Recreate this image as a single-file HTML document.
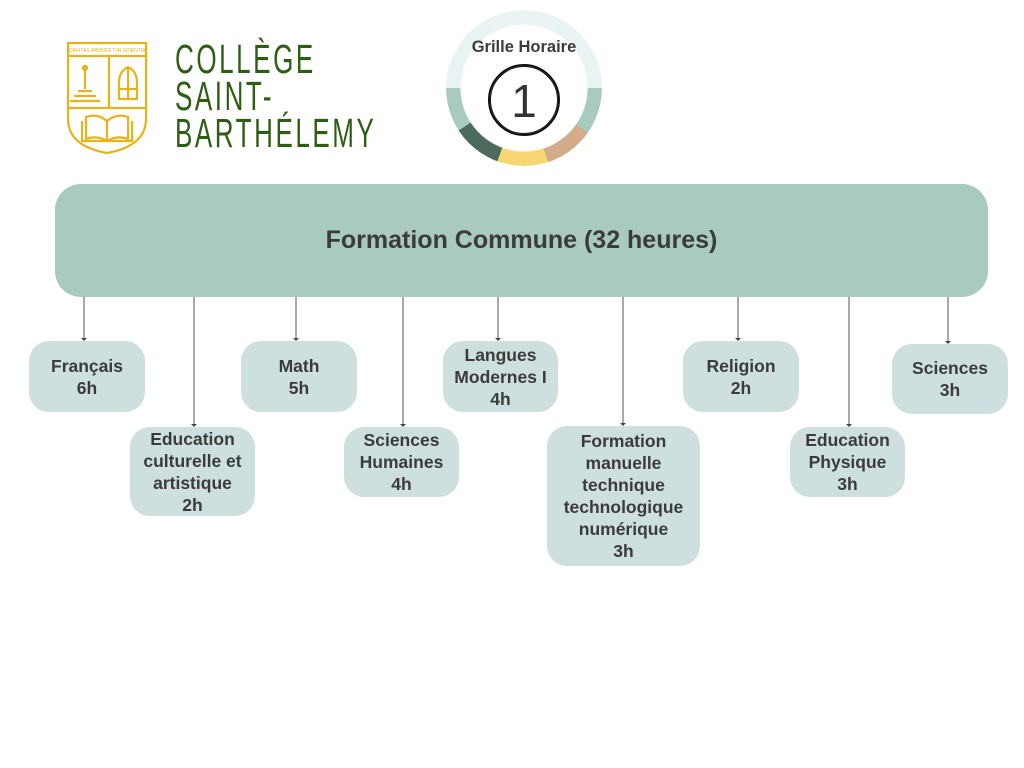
<!DOCTYPE html>
<html><head><meta charset="utf-8"><style>
body{margin:0;width:1024px;height:768px;background:#fff;position:relative;overflow:hidden;font-family:"Liberation Sans",sans-serif}
.b{position:absolute;background:#cde0df;border-radius:20px;display:flex;align-items:center;justify-content:center;text-align:center;font-weight:bold;font-size:17.5px;line-height:22px;color:#3b3b3b;white-space:nowrap}
.t{position:absolute;font-family:"Liberation Sans Narrow","Liberation Sans",sans-serif;color:#2e5e14;font-size:41px;letter-spacing:4px;line-height:37px;left:175px;top:41px;transform:scaleX(0.635);transform-origin:left;white-space:nowrap}
</style></head><body>
<svg style="position:absolute;left:66px;top:41px" width="82" height="114" viewBox="0 0 82 114" fill="none" stroke="#e8b21a" stroke-width="2.2">
<path d="M2 2H80V78Q80 105 41 112Q2 105 2 78Z"/>
<line x1="2" y1="15" x2="80" y2="15"/><line x1="2" y1="67" x2="80" y2="67"/><line x1="43" y1="15" x2="43" y2="67"/>
<text x="41" y="11" font-size="5" fill="#e8b21a" stroke="none" text-anchor="middle" font-family="Liberation Sans Narrow,sans-serif">CARITAS ABUNDET IN SCIENTIA</text>
<circle cx="19" cy="27" r="2" fill="#e8b21a"/><line x1="19" y1="28" x2="19" y2="48"/><line x1="12" y1="50" x2="26" y2="50"/><line x1="8" y1="55" x2="30" y2="55"/><line x1="4" y1="60" x2="34" y2="60"/>
<path d="M53 58V42Q53 30 62 26Q71 30 71 42V58Z"/><line x1="62" y1="26" x2="62" y2="58"/><line x1="53" y1="48" x2="71" y2="48"/>
<path d="M20 98V76Q31 72 41 80Q51 72 62 76V98Q51 94 41 100Q31 94 20 98Z"/><line x1="41" y1="80" x2="41" y2="100"/><path d="M16 80V100H66V80"/>
</svg>
<div class="t">COLLÈGE<br>SAINT-<br>BARTHÉLEMY</div>
<div style="position:absolute;left:446px;top:10px;width:156px;height:156px;border-radius:50%;background:conic-gradient(#e9f3f3 0 90deg,#a8cbbd 90deg 125deg,#d1ab8a 125deg 162deg,#f7d774 162deg 200deg,#4d6b5d 200deg 237deg,#a8cbbd 237deg 270deg,#e9f3f3 270deg 360deg);-webkit-mask:radial-gradient(circle,transparent 63px,#000 64px);mask:radial-gradient(circle,transparent 63px,#000 64px)"></div>
<div style="position:absolute;left:446px;top:38px;width:156px;text-align:center;font-weight:bold;font-size:16.5px;color:#3b3b3b">Grille Horaire</div>
<div style="position:absolute;left:488px;top:64px;width:68px;height:68px;border:2px solid #111;border-radius:50%;"></div>
<div style="position:absolute;left:490px;top:66px;width:68px;height:68px;border:1px solid #111;border-radius:50%;text-align:center;line-height:68px;font-size:46px;color:#333;box-sizing:border-box">1</div>
<div style="position:absolute;left:55px;top:184px;width:933px;height:113px;background:#a8cbbd;border-radius:26px;display:flex;align-items:center;justify-content:center;font-weight:bold;font-size:25px;color:#3b3b3b">Formation Commune (32 heures)</div>
<svg style="position:absolute;left:0;top:0" width="1024" height="768">
<g stroke="#555" stroke-width="1">
<line x1="84" y1="297" x2="84" y2="338"/><line x1="194" y1="297" x2="194" y2="424"/><line x1="296" y1="297" x2="296" y2="338"/><line x1="403" y1="297" x2="403" y2="424"/><line x1="498" y1="297" x2="498" y2="338"/><line x1="623" y1="297" x2="623" y2="423"/><line x1="738" y1="297" x2="738" y2="338"/><line x1="849" y1="297" x2="849" y2="424"/><line x1="948" y1="297" x2="948" y2="341"/>
</g>
<g fill="#444">
<path d="M81 338h6l-3 3z"/><path d="M191 424h6l-3 3z"/><path d="M293 338h6l-3 3z"/><path d="M400 424h6l-3 3z"/><path d="M495 338h6l-3 3z"/><path d="M620 423h6l-3 3z"/><path d="M735 338h6l-3 3z"/><path d="M846 424h6l-3 3z"/><path d="M945 341h6l-3 3z"/>
</g></svg>
<div class="b" style="left:29px;top:341px;width:116px;height:71px">Français<br>6h</div>
<div class="b" style="left:130px;top:427px;width:125px;height:89px">Education<br>culturelle et<br>artistique<br>2h</div>
<div class="b" style="left:241px;top:341px;width:116px;height:71px">Math<br>5h</div>
<div class="b" style="left:344px;top:427px;width:115px;height:70px">Sciences<br>Humaines<br>4h</div>
<div class="b" style="left:443px;top:341px;width:115px;height:71px">Langues<br>Modernes I<br>4h</div>
<div class="b" style="left:547px;top:426px;width:153px;height:140px">Formation<br>manuelle<br>technique<br>technologique<br>numérique<br>3h</div>
<div class="b" style="left:683px;top:341px;width:116px;height:71px">Religion<br>2h</div>
<div class="b" style="left:790px;top:427px;width:115px;height:70px">Education<br>Physique<br>3h</div>
<div class="b" style="left:892px;top:344px;width:116px;height:70px">Sciences<br>3h</div>
</body></html>
